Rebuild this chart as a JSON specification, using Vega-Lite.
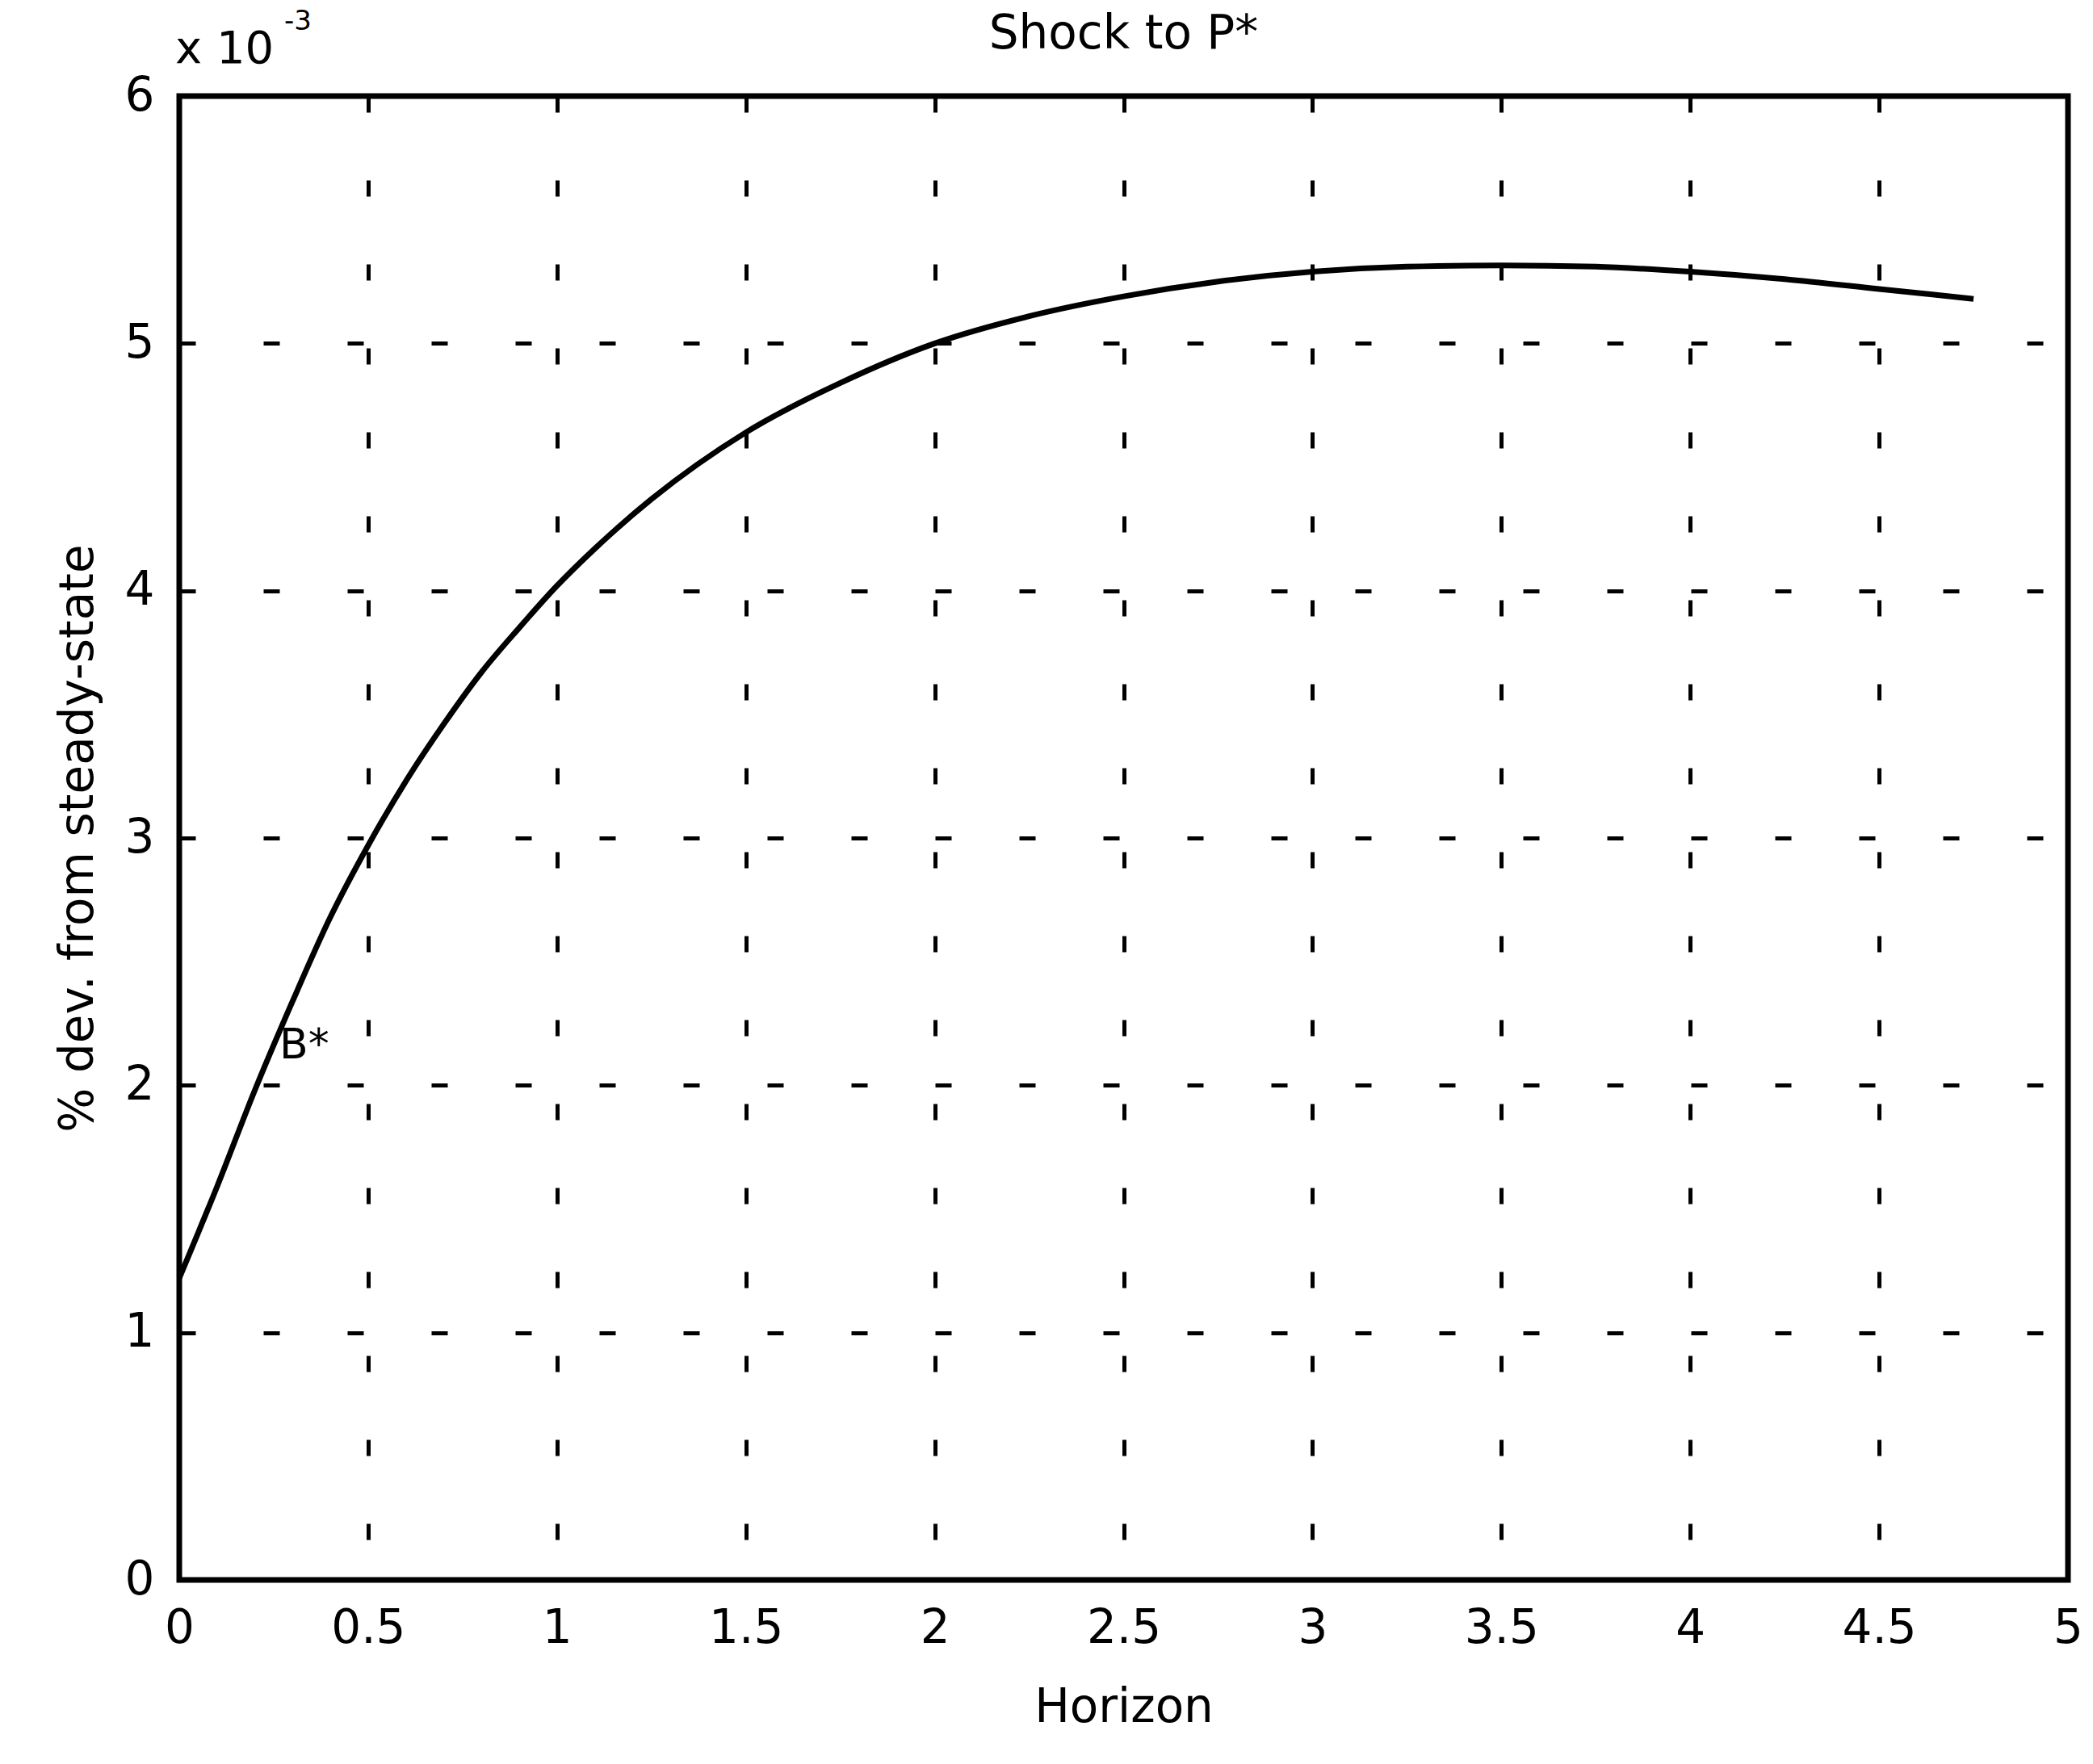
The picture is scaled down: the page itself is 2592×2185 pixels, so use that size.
{
  "$schema": "https://vega.github.io/schema/vega-lite/v6.json",
  "width": 2339,
  "height": 1838,
  "autosize": {"type": "none"},
  "padding": {"left": 222, "top": 119, "right": 31, "bottom": 228},
  "background": "white",
  "config": {
    "font": "DejaVu Sans",
    "view": {"stroke": "black", "strokeWidth": 7},
    "axis": {
      "grid": true,
      "gridColor": "black",
      "gridOpacity": 1,
      "gridWidth": 5,
      "gridDash": [20, 84],
      "domain": false,
      "ticks": false,
      "labelColor": "black",
      "labelFontSize": 58,
      "labelPadding": 31,
      "labelOverlap": false,
      "labelBound": false,
      "labelFlush": false,
      "titleColor": "black",
      "titleFontSize": 58,
      "titleFontWeight": "normal"
    }
  },
  "datasets": {
    "irf": [
      {"horizon": 0, "dev": 1.22},
      {"horizon": 0.1, "dev": 1.59},
      {"horizon": 0.2, "dev": 1.98},
      {"horizon": 0.3, "dev": 2.34},
      {"horizon": 0.4, "dev": 2.68},
      {"horizon": 0.5, "dev": 2.97},
      {"horizon": 0.6, "dev": 3.23},
      {"horizon": 0.7, "dev": 3.46},
      {"horizon": 0.8, "dev": 3.67},
      {"horizon": 0.9, "dev": 3.85},
      {"horizon": 1.0, "dev": 4.02},
      {"horizon": 1.1, "dev": 4.17},
      {"horizon": 1.25, "dev": 4.37},
      {"horizon": 1.5, "dev": 4.64},
      {"horizon": 1.75, "dev": 4.84},
      {"horizon": 2.0, "dev": 5.0},
      {"horizon": 2.25, "dev": 5.11},
      {"horizon": 2.5, "dev": 5.19},
      {"horizon": 2.75, "dev": 5.25},
      {"horizon": 3.0, "dev": 5.29},
      {"horizon": 3.25, "dev": 5.31},
      {"horizon": 3.5, "dev": 5.315},
      {"horizon": 3.75, "dev": 5.31},
      {"horizon": 4.0, "dev": 5.29},
      {"horizon": 4.25, "dev": 5.26},
      {"horizon": 4.5, "dev": 5.22},
      {"horizon": 4.75, "dev": 5.18}
    ]
  },
  "layer": [
    {
      "data": {"name": "irf"},
      "mark": {"type": "line", "color": "black", "strokeWidth": 7, "interpolate": "monotone"},
      "encoding": {
        "x": {
          "field": "horizon",
          "type": "quantitative",
          "scale": {"domain": [0, 5], "nice": false, "zero": false},
          "axis": {
            "values": [0, 0.5, 1, 1.5, 2, 2.5, 3, 3.5, 4, 4.5, 5],
            "format": "~g",
            "title": "Horizon",
            "titlePadding": 40
          }
        },
        "y": {
          "field": "dev",
          "type": "quantitative",
          "scale": {"domain": [0, 6], "nice": false},
          "axis": {
            "values": [0, 1, 2, 3, 4, 5, 6],
            "format": "~g",
            "title": "% dev. from steady-state",
            "titlePadding": 28
          }
        }
      }
    },
    {
      "data": {"values": [{"h": 2.5, "v": 6, "t": "Shock to P*"}]},
      "mark": {"type": "text", "align": "center", "baseline": "alphabetic", "dy": -59, "fontSize": 58, "color": "black"},
      "encoding": {
        "x": {"field": "h", "type": "quantitative"},
        "y": {"field": "v", "type": "quantitative"},
        "text": {"field": "t"}
      }
    },
    {
      "data": {"values": [{"h": 0, "v": 6, "t": "x 10"}]},
      "mark": {"type": "text", "align": "left", "baseline": "alphabetic", "dx": -5, "dy": -41, "fontSize": 56, "color": "black"},
      "encoding": {
        "x": {"field": "h", "type": "quantitative"},
        "y": {"field": "v", "type": "quantitative"},
        "text": {"field": "t"}
      }
    },
    {
      "data": {"values": [{"h": 0, "v": 6, "t": "-3"}]},
      "mark": {"type": "text", "align": "left", "baseline": "alphabetic", "dx": 130, "dy": -82, "fontSize": 34, "color": "black"},
      "encoding": {
        "x": {"field": "h", "type": "quantitative"},
        "y": {"field": "v", "type": "quantitative"},
        "text": {"field": "t"}
      }
    },
    {
      "data": {"values": [{"h": 0.265, "v": 2.11, "t": "B*"}]},
      "mark": {"type": "text", "align": "left", "baseline": "alphabetic", "fontSize": 52, "color": "black"},
      "encoding": {
        "x": {"field": "h", "type": "quantitative"},
        "y": {"field": "v", "type": "quantitative"},
        "text": {"field": "t"}
      }
    }
  ]
}
